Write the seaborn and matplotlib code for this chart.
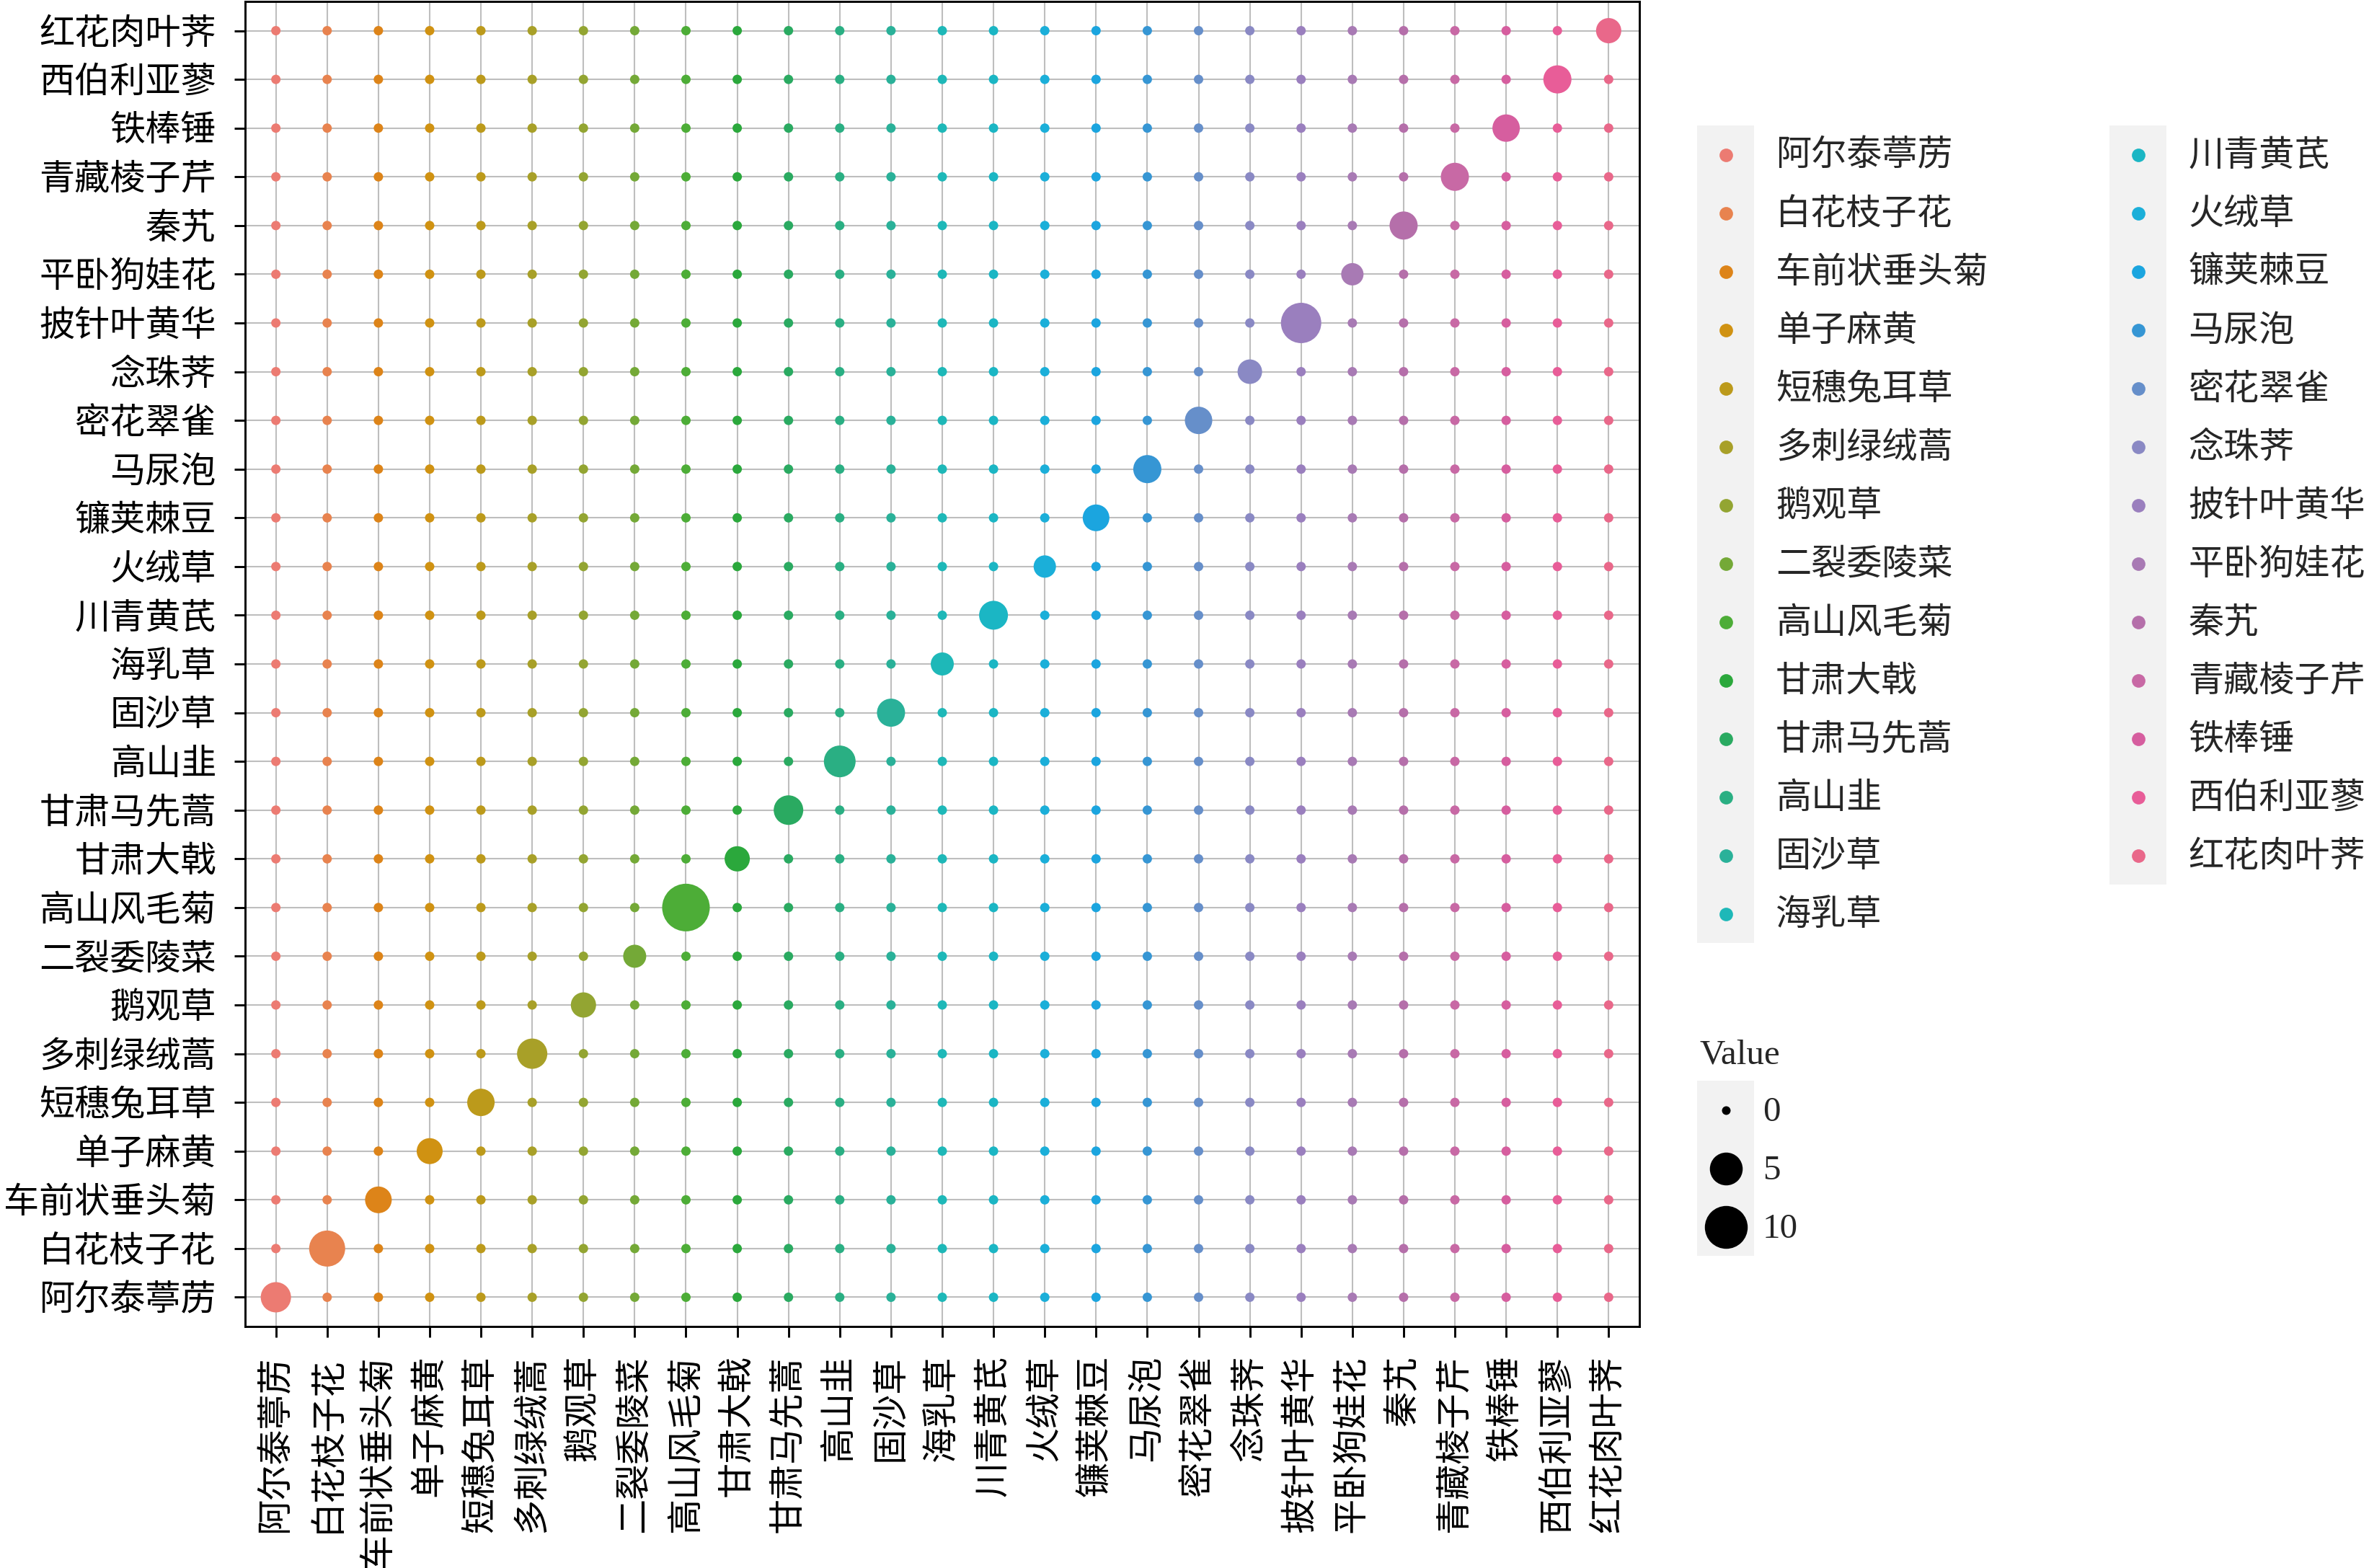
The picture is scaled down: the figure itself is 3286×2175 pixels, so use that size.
import numpy as np
import pandas as pd
import matplotlib
matplotlib.use("Agg")
import matplotlib.pyplot as plt
import seaborn as sns
from matplotlib.lines import Line2D
from matplotlib.patches import Rectangle
from matplotlib.legend_handler import HandlerBase

# ---------------- data ----------------
species = ["阿尔泰葶苈", "白花枝子花", "车前状垂头菊", "单子麻黄", "短穗兔耳草",
           "多刺绿绒蒿", "鹅观草", "二裂委陵菜", "高山风毛菊", "甘肃大戟",
           "甘肃马先蒿", "高山韭", "固沙草", "海乳草", "川青黄芪", "火绒草",
           "镰荚棘豆", "马尿泡", "密花翠雀", "念珠荠", "披针叶黄华", "平卧狗娃花",
           "秦艽", "青藏棱子芹", "铁棒锤", "西伯利亚蓼", "红花肉叶荠"]
diag_values = [3.74, 6.08, 2.56, 2.35, 2.78,
               3.74, 2.15, 1.60, 12.5, 2.15,
               3.48, 4.27, 3.00, 1.60, 3.24, 1.44,
               2.56, 3.00, 2.78, 1.96, 8.20, 1.44,
               3.00, 3.00, 2.78, 3.00, 2.15]
off_diag_value = 0.0
size_breaks = [0, 5, 10]

# colours as printed in the reference (ggplot hue wheel, print-muted)
colors = ["#EC7B72", "#E8834F", "#DD8419", "#D09212", "#BC9A1B",
          "#A8A028", "#93A532", "#74A937", "#4DAD37", "#2BA83C",
          "#2AAA61", "#2AAF83", "#2AB199", "#1EB8B8", "#1BB6C4", "#1BAFD9",
          "#1BA5DF", "#3696D4", "#668FCA", "#8A89C4", "#9A7FBE", "#A87AB4",
          "#B56FAA", "#C869A5", "#D65E9F", "#E85D98", "#E9688A"]

n = len(species)
rows = []
for i in range(n):
    for j in range(n):
        rows.append({"x": species[j], "y": species[i],
                     "value": diag_values[i] if i == j else off_diag_value})
df = pd.DataFrame(rows)

# ---------------- styling helpers ----------------
DPI = 300
W, H = 3286, 2175
palette = dict(zip(species, colors))


def diam_pt(v, base=12):
    return (base + 15 * np.sqrt(v)) * 72 / DPI


size_map = {v: diam_pt(v, 13) ** 2 for v in sorted(set(df["value"]))}

sns.set_style("white")
plt.rcParams["font.family"] = ["Liberation Serif", "Noto Sans CJK SC", "DejaVu Sans"]

FS = 11.8

fig = plt.figure(figsize=(W / DPI, H / DPI), dpi=DPI)
ax = fig.add_axes([340 / W, 1 - 1840 / H, (2274 - 340) / W, (1840 - 2) / H])

sns.scatterplot(data=df, x="x", y="y", hue="x", palette=palette,
                size="value", sizes=size_map, legend=False,
                linewidth=0, ax=ax, zorder=3)

ax.set_xlim(-0.6, n - 0.4)
ax.set_ylim(-0.6, n - 0.4)
ax.set_xlabel("")
ax.set_ylabel("")
ax.grid(True, color="#BEBEBE", linewidth=0.5)
ax.set_axisbelow(True)
for sp in ax.spines.values():
    sp.set_visible(True)
    sp.set_color("black")
    sp.set_linewidth(0.7)
ax.tick_params(axis="both", which="major", direction="out", length=3.6,
               width=0.7, color="black", labelsize=FS, labelcolor="black",
               pad=6, bottom=True, left=True)
ax.tick_params(axis="x", labelrotation=90)
for t in ax.get_xticklabels():
    t.set_ha("center")
    t.set_va("top")

# ---------------- legends ----------------
KEY_BG = "#F2F2F2"
key_w_pt = 79 * 72 / DPI
key_h_pt = 81 * 72 / DPI
# matplotlib: row height = FS*(0.65*hh + 0.245)
hh = (key_h_pt / FS - 0.245) / 0.65


class KeyHandler(HandlerBase):
    def create_artists(self, legend, orig_handle, xdescent, ydescent,
                       width, height, fontsize, trans):
        rect = Rectangle((-xdescent, -ydescent), width, height,
                         facecolor=KEY_BG, edgecolor="none", transform=trans)
        cx = -xdescent + width / 2
        cy = -ydescent + height / 2
        m = Line2D([cx], [cy], marker="o", linestyle="none",
                   markersize=orig_handle.get_markersize(),
                   markerfacecolor=orig_handle.get_markerfacecolor(),
                   markeredgewidth=0, transform=trans)
        return [rect, m]


sp_handles = [Line2D([], [], marker="o", linestyle="none", markersize=4.5,
                     markerfacecolor=palette[s], markeredgewidth=0)
              for s in species]
fig.legend(sp_handles, species, handler_map={Line2D: KeyHandler()},
           loc="upper left", bbox_to_anchor=(2354 / W, 1 - 174 / H),
           ncol=2, frameon=False, borderpad=0, borderaxespad=0, fontsize=FS,
           handlelength=key_w_pt / FS, handleheight=hh,
           labelspacing=0, handletextpad=(30 * 72 / DPI) / FS,
           columnspacing=(176 * 72 / DPI - 6 * (FS - 11.5)) / FS)

v_handles = [Line2D([], [], marker="o", linestyle="none", markersize=diam_pt(v),
                    markerfacecolor="black", markeredgewidth=0)
             for v in size_breaks]
fig.legend(v_handles, [str(v) for v in size_breaks],
           handler_map={Line2D: KeyHandler()},
           loc="upper left", bbox_to_anchor=(2354 / W, 1 - 1499 / H),
           frameon=False, borderpad=0, borderaxespad=0, fontsize=FS,
           handlelength=key_w_pt / FS, handleheight=hh,
           labelspacing=0, handletextpad=(12 * 72 / DPI) / FS)
fig.text(2357 / W, 1 - 1476 / H, "Value", ha="left", va="baseline", fontsize=FS)

fig.savefig("out.png", dpi=DPI)
